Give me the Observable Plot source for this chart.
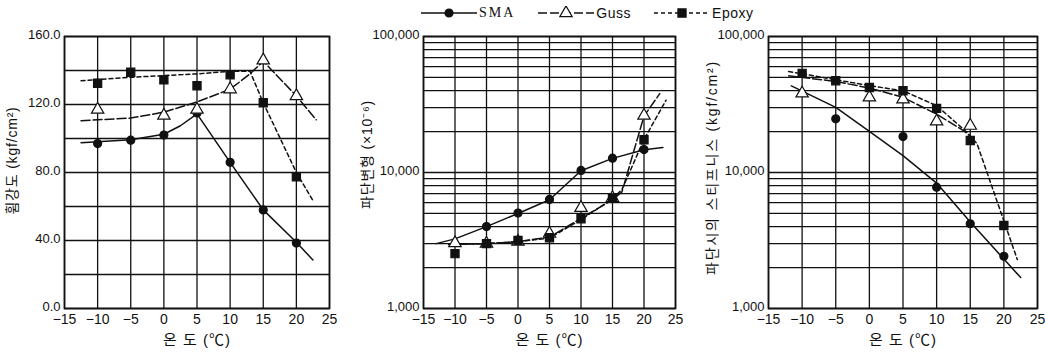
<!DOCTYPE html>
<html><head><meta charset="utf-8">
<script src="https://cdn.jsdelivr.net/npm/d3@7"></script>
<script src="https://cdn.jsdelivr.net/npm/@observablehq/plot@0.6"></script>
<style>
body{margin:0;background:#fff;width:1045px;height:352px;overflow:hidden;position:relative;font-family:'Liberation Sans','Noto Sans CJK KR',sans-serif;}
.chart{position:absolute;top:0;}
#legend{position:absolute;top:5px;left:420px;display:flex;align-items:center;font-size:14px;color:#111;font-family:'Liberation Sans',sans-serif;}
#legend .item{display:flex;align-items:center;margin-right:22px;}
g[aria-label="x-axis label"] text{font-size:15px;letter-spacing:1px;}
g[aria-label="y-axis label"] text{font-size:14px;letter-spacing:0.8px;}
</style></head><body>
<div id="legend"></div>
<div id="c1" class="chart" style="left:0px"></div>
<div id="c2" class="chart" style="left:350px"></div>
<div id="c3" class="chart" style="left:695px"></div>
<script>
// ---- data ----
const series = ["SMA", "Guss", "Epoxy"];
const temps = [-10, -5, 0, 5, 10, 15, 20];
const xTicks = [-15, -10, -5, 0, 5, 10, 15, 20, 25];

// chart 1: flexural strength (kgf/cm2)
const flexSMA   = [97, 99, 102, 115, 86, 58, 38.5];
const flexGuss  = [117, null, 113.5, 117, 129, 146, 125];
const flexEpoxy = [132.5, 139, 134.5, 131, 137.5, 121, 77.5];
const flexSMAFitX   = [-12.5, -5, 0, 2.5, 5, 10, 15, 20, 22.5];
const flexSMAFitY   = [97.5, 99.3, 102.5, 107.5, 114.5, 86, 58, 39, 28.5];
const flexGussFitX  = [-12.5, -5, 0, 5, 10, 13, 15, 20, 23];
const flexGussFitY  = [110.5, 112, 115.5, 121.5, 129, 138, 145.5, 125, 111];
const flexEpoxyFitX = [-12.5, -5, 0, 5, 10, 13, 15, 20, 22.5];
const flexEpoxyFitY = [134, 136, 137, 138, 139.5, 139.5, 121, 80, 63.5];
const flexTickLabels = [0, 40, 80, 120, 160];
const flexGrid = [0, 20, 40, 60, 80, 100, 120, 140, 160];

// chart 2: failure strain (x10^-6)
const strainSMA   = [null, 4000, 5030, 6340, 10350, 12740, 14750];
const strainGuss  = [3030, 3000, 3100, 3550, 5500, 6500, 26200];
const strainEpoxy = [2530, 3000, 3170, 3315, 4570, 6515, 17400];
const strainSMAFitX   = [-13, -10, -5, 0, 5, 10, 15, 20, 23];
const strainSMAFitY   = [3000, 3250, 4000, 5000, 6300, 10300, 12700, 14700, 15300];
const strainGussFitX  = [-11, -5, 0, 5, 10, 15, 16.5, 20, 22.5];
const strainGussFitY  = [2950, 3000, 3100, 3350, 4600, 6300, 7200, 26000, 38000];
const strainEpoxyFitX = [-11, -5, 0, 5, 10, 15, 16.5, 20, 23.5];
const strainEpoxyFitY = [2950, 3000, 3100, 3300, 4500, 6400, 7500, 17500, 34000];

// chart 3: stiffness at failure (kgf/cm2)
const stiffSMA   = [null, 24800, null, 18370, 7800, 4200, 2420];
const stiffGuss  = [38200, null, 35700, 34500, 23800, 22100, null];
const stiffEpoxy = [53600, 47300, 42200, 39900, 29600, 17200, 4080];
const stiffSMAFitX   = [-11.6, -5, 0, 5, 10, 15, 22.5];
const stiffSMAFitY   = [43400, 30100, 20100, 13300, 8360, 4320, 1690];
const stiffGussFitX  = [-12, -5, 0, 5, 10, 14, 15];
const stiffGussFitY  = [51400, 46700, 41800, 35700, 26900, 20300, 18500];
const stiffEpoxyFitX = [-12, -5, 0, 5, 10, 14.5, 16, 22];
const stiffEpoxyFitY = [55300, 48100, 43500, 39900, 31000, 19800, 16300, 2290];

const logTickLabels = [1000, 10000, 100000];

// ---- styles ----
const ink = "#111";
const dash = {SMA: null, Guss: "9,3", Epoxy: "4,3"};
const sym = {SMA: "circle", Guss: "triangle", Epoxy: "square"};
const fillOf = {SMA: ink, Guss: "white", Epoxy: ink};
const rOf = {SMA: 4, Guss: 4.6, Epoxy: 4.6};
const FONT = "'Liberation Sans','Noto Sans CJK KR',sans-serif";

function pts(vals, name) {
  return temps.map((t, i) => ({t, v: vals[i], s: name})).filter(d => d.v != null);
}
function fit(xs, ys, name) {
  return xs.map((x, i) => ({t: x, v: ys[i], s: name}));
}

function chart({width, marginLeft, marginRight, yType, yDomain, grid, labels, fmt, label, labelOffset, labelShift, points, fits}) {
  const marks = [
    Plot.gridX(xTicks, {stroke: ink, strokeOpacity: 1, strokeWidth: 1.3}),
    Plot.gridY(grid, {stroke: ink, strokeOpacity: 1, strokeWidth: 1.3}),
    Plot.frame({stroke: ink, strokeWidth: 1.7}),
    Plot.axisX(xTicks, {tickSize: 0, tickPadding: 6, fontSize: 14, label: "온 도 (℃)", labelAnchor: "center", labelArrow: "none", labelOffset: 36}),
    Plot.axisY(labels, {tickSize: 0, tickPadding: 4, dy: -2, fontSize: 13, tickFormat: fmt, label, labelAnchor: "center", labelArrow: "none", labelOffset})
  ];
  for (const f of fits) {
    marks.push(Plot.line(f, {x: "t", y: "v", stroke: ink, strokeWidth: 1.5, strokeDasharray: dash[f[0].s]}));
  }
  for (const p of points) {
    const s = p[0].s;
    marks.push(Plot.dot(p, {x: "t", y: "v", symbol: () => sym[s], fill: fillOf[s], stroke: ink, strokeWidth: 1.2, r: rOf[s]}));
  }
  const svg = Plot.plot({
    width, height: 352, marginLeft, marginRight, marginTop: 36, marginBottom: 44,
    style: {fontFamily: FONT, fontSize: "13px", color: ink, background: "transparent"},
    x: {domain: [-15, 25]},
    y: {type: yType, domain: yDomain},
    marks
  });
  d3.select(svg).selectAll('g[aria-label="y-axis label"] text').attr("dx", labelShift);
  return svg;
}

const logGrid = d3.scaleLog().domain([1000, 100000]).ticks();

document.getElementById("c1").appendChild(chart({
  width: 345, marginLeft: 64, marginRight: 16, yType: "linear", yDomain: [0, 160],
  grid: flexGrid, labels: flexTickLabels, fmt: d3.format(".1f"),
  label: "휨강도 (kgf/cm²)", labelOffset: 57, labelShift: 12,
  points: [pts(flexSMA, "SMA"), pts(flexGuss, "Guss"), pts(flexEpoxy, "Epoxy")],
  fits: [fit(flexSMAFitX, flexSMAFitY, "SMA"), fit(flexGussFitX, flexGussFitY, "Guss"), fit(flexEpoxyFitX, flexEpoxyFitY, "Epoxy")]
}));
document.getElementById("c2").appendChild(chart({
  width: 345, marginLeft: 73, marginRight: 20, yType: "log", yDomain: [1000, 100000],
  grid: logGrid, labels: logTickLabels, fmt: d3.format(","),
  label: "파단변형 (×10⁻⁶)", labelOffset: 61, labelShift: 18,
  points: [pts(strainSMA, "SMA"), pts(strainGuss, "Guss"), pts(strainEpoxy, "Epoxy")],
  fits: [fit(strainSMAFitX, strainSMAFitY, "SMA"), fit(strainGussFitX, strainGussFitY, "Guss"), fit(strainEpoxyFitX, strainEpoxyFitY, "Epoxy")]
}));
document.getElementById("c3").appendChild(chart({
  width: 350, marginLeft: 73, marginRight: 8, yType: "log", yDomain: [1000, 100000],
  grid: logGrid, labels: logTickLabels, fmt: d3.format(","),
  label: "파단시의 스티프니스 (kgf/cm²)", labelOffset: 61, labelShift: 5,
  points: [pts(stiffSMA, "SMA"), pts(stiffGuss, "Guss"), pts(stiffEpoxy, "Epoxy")],
  fits: [fit(stiffSMAFitX, stiffSMAFitY, "SMA"), fit(stiffGussFitX, stiffGussFitY, "Guss"), fit(stiffEpoxyFitX, stiffEpoxyFitY, "Epoxy")]
}));
d3.select("#c3").selectAll('g[aria-label="y-axis label"] text').style("letter-spacing", "1.8px");

// ---- legend ----
const leg = d3.select("#legend");
series.forEach(s => {
  const it = leg.append("div").attr("class", "item");
  const sv = it.append("svg").attr("width", 58).attr("height", 14);
  sv.append("line").attr("x1", 1).attr("x2", 57).attr("y1", 7).attr("y2", 7)
    .attr("stroke", ink).attr("stroke-width", 1.5).attr("stroke-dasharray", dash[s]);
  const st = {circle: d3.symbolCircle, triangle: d3.symbolTriangle, square: d3.symbolSquare}[sym[s]];
  sv.append("path").attr("d", d3.symbol(st, Math.PI * rOf[s] * rOf[s])())
    .attr("transform", "translate(29,7)").attr("fill", fillOf[s]).attr("stroke", ink).attr("stroke-width", 1.2);
  it.append("span").text(s)
    .style("font-family", s === "SMA" ? "'Liberation Serif',serif" : null)
    .style("letter-spacing", s === "SMA" ? "2px" : "0.5px").style("margin-left", "1px");
});
</script>
</body></html>
